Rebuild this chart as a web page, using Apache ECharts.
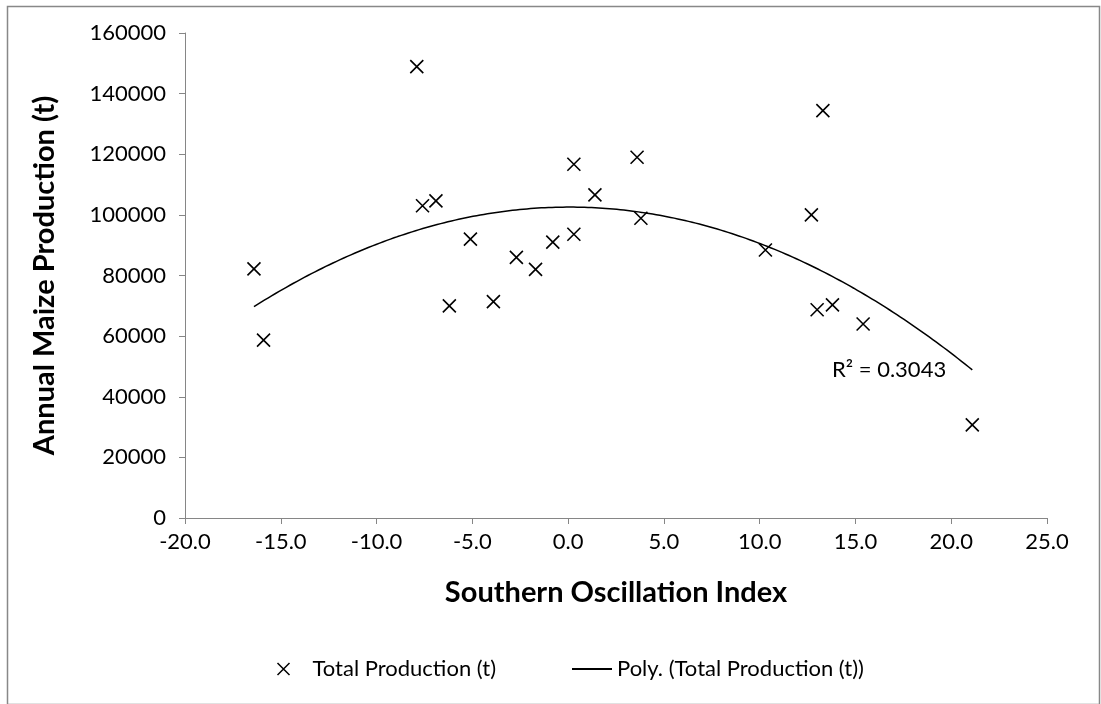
<!DOCTYPE html>
<html>
<head>
<meta charset="utf-8">
<script src="https://cdn.jsdelivr.net/npm/echarts@6/dist/echarts.min.js"></script>
<style>
html,body{margin:0;padding:0;background:#fff;}
#chart{width:1101px;height:704px;}
</style>
</head>
<body>
<div id="chart"></div>
<script>
// Southern Oscillation Index (x) and annual maize production (t)
const soi = [-16.4, -15.9, -7.9, -7.6, -6.9, -6.2, -5.1, -3.9, -2.7, -1.7, -0.8, 0.3, 0.3, 1.4, 3.6, 3.8, 10.3, 12.7, 13.0, 13.3, 13.8, 15.4, 21.1];
const production = [82200, 58700, 148900, 103000, 104600, 70000, 92000, 71400, 86000, 82000, 91000, 116700, 93600, 106600, 119000, 98900, 88400, 100000, 68700, 134400, 70300, 64000, 30700];
const xTicks = {min: -20, max: 25, interval: 5};
const yTicks = {min: 0, max: 160000, interval: 20000};
const seriesNames = ['Total Production (t)', 'Poly. (Total Production (t))'];
const r2Text = 'R² = 0.3043';

// least-squares quadratic fit (the trendline)
function quadFit(xs, ys) {
  let n = xs.length, sx=0, sx2=0, sx3=0, sx4=0, sy=0, sxy=0, sx2y=0;
  for (let i=0;i<n;i++){const x=xs[i], y=ys[i];
    sx+=x; sx2+=x*x; sx3+=x*x*x; sx4+=x*x*x*x; sy+=y; sxy+=x*y; sx2y+=x*x*y;}
  const M=[[n,sx,sx2,sy],[sx,sx2,sx3,sxy],[sx2,sx3,sx4,sx2y]];
  for (let c=0;c<3;c++){
    let p=c; for(let r=c+1;r<3;r++) if(Math.abs(M[r][c])>Math.abs(M[p][c])) p=r;
    [M[c],M[p]]=[M[p],M[c]];
    for(let r=0;r<3;r++){ if(r===c) continue; const f=M[r][c]/M[c][c];
      for(let k=c;k<4;k++) M[r][k]-=f*M[c][k]; }
  }
  return [M[0][3]/M[0][0], M[1][3]/M[1][1], M[2][3]/M[2][2]];
}
const coef = quadFit(soi, production);
const xMin = Math.min(...soi), xMax = Math.max(...soi);
const fitLine = [];
for (let i=0;i<=200;i++){ const x = xMin + (xMax-xMin)*i/200;
  fitLine.push([x, coef[0]+coef[1]*x+coef[2]*x*x]); }

const FONT = 'Lato';
const crossPath = 'path://M0,0 L10,10 M10,0 L0,10';
const chart = echarts.init(document.getElementById('chart'), null, {renderer:'canvas'});
chart.setOption({
  animation:false,
  backgroundColor:'#fff',
  textStyle:{fontFamily:FONT},
  grid:{left:185, right:54, top:33, bottom:186, containLabel:false},
  xAxis:{
    type:'value', min:xTicks.min, max:xTicks.max, interval:xTicks.interval,
    name:'Southern Oscillation Index', nameLocation:'middle', nameGap:60,
    nameTextStyle:{fontFamily:FONT, fontSize:29, fontWeight:'bold', color:'#000'},
    axisLine:{onZero:false, lineStyle:{color:'#868686', width:1}},
    axisTick:{show:true, inside:false, length:6, lineStyle:{color:'#868686'}},
    axisLabel:{margin:13, fontSize:22, color:'#000', fontFamily:FONT, formatter:v=>v.toFixed(1)},
    splitLine:{show:false}
  },
  yAxis:{
    type:'value', min:yTicks.min, max:yTicks.max, interval:yTicks.interval,
    name:'Annual Maize Production (t)', nameLocation:'middle', nameGap:126, nameRotate:90,
    nameTextStyle:{fontFamily:FONT, fontSize:29, fontWeight:'bold', color:'#000'},
    axisLine:{show:true, onZero:false, lineStyle:{color:'#868686', width:1}},
    axisTick:{show:true, inside:false, length:6, lineStyle:{color:'#868686'}},
    axisLabel:{margin:19, fontSize:22, color:'#000', fontFamily:FONT, formatter:v=>String(v)},
    splitLine:{show:false}
  },
  legend:[
    {data:[{name:seriesNames[0], icon:crossPath}], left:270, top:653, itemWidth:12, itemHeight:12, itemGap:10,
     textStyle:{fontSize:22, color:'#000', fontFamily:FONT, padding:[0,0,0,18]},
     itemStyle:{color:'none', borderColor:'#000', borderWidth:1.5}},
    {data:[{name:seriesNames[1], icon:'rect'}], left:567, top:653, itemWidth:40, itemHeight:2,
     textStyle:{fontSize:22, color:'#000', fontFamily:FONT},
     itemStyle:{color:'#000', borderWidth:0}}
  ],
  graphic:[
    {type:'rect', left:5, top:4, shape:{width:1092, height:698}, style:{fill:'none', stroke:'#888', lineWidth:1.5}, silent:true},
    {type:'text', left:832, top:359, style:{text:r2Text, font:'22px '+FONT, fill:'#000'}}
  ],
  series:[
    {name:seriesNames[0], type:'scatter', data:soi.map((x,i)=>[x,production[i]]),
     symbol:crossPath, symbolSize:13,
     itemStyle:{color:'none', borderColor:'#000', borderWidth:1.6, opacity:1}},
    {name:seriesNames[1], type:'line', data:fitLine, showSymbol:false, symbol:'none', smooth:false,
     lineStyle:{color:'#000', width:1.5}, itemStyle:{color:'#000'}, z:1}
  ]
});
</script>
</body>
</html>
